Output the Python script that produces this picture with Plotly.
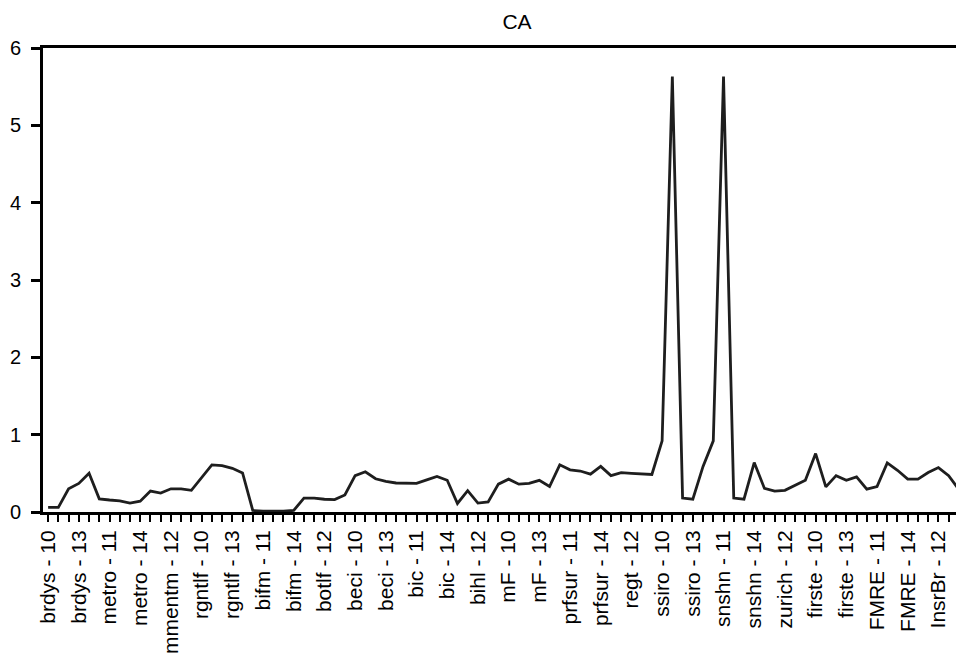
import plotly.graph_objects as go

groups = ["brdys", "metro", "mmentm", "rgntlf", "bifm", "botlf", "beci", "bic", "bihl",
          "mF", "prfsur", "regt", "ssiro", "snshn", "zurich", "firste", "FMRE", "InsrBr"]
years = ["10", "11", "12", "13", "14"]
categories = [f"{g} - {y}" for g in groups for y in years]

values = [
    0.06, 0.06, 0.30, 0.37, 0.50,      # brdys
    0.17, 0.155, 0.145, 0.115, 0.14,   # metro
    0.27, 0.245, 0.30, 0.30, 0.28,     # mmentm
    0.45, 0.61, 0.60, 0.565, 0.505,    # rgntlf
    0.02, 0.01, 0.01, 0.01, 0.02,      # bifm
    0.18, 0.18, 0.165, 0.16, 0.22,     # botlf
    0.47, 0.52, 0.43, 0.395, 0.375,    # beci
    0.37, 0.37, 0.415, 0.46, 0.41,     # bic
    0.11, 0.275, 0.115, 0.13, 0.36,    # bihl
    0.425, 0.36, 0.37, 0.41, 0.33,     # mF
    0.61, 0.545, 0.53, 0.49, 0.59,     # prfsur
    0.47, 0.51, 0.50, 0.49, 0.485,     # regt
    0.92, 5.63, 0.18, 0.165, 0.59,     # ssiro
    0.92, 5.63, 0.18, 0.165, 0.64,     # snshn
    0.305, 0.27, 0.28, 0.34, 0.41,     # zurich
    0.755, 0.325, 0.47, 0.41, 0.455,   # firste
    0.295, 0.33, 0.635, 0.54, 0.425,   # FMRE
    0.425, 0.51, 0.575, 0.47, 0.29,    # InsrBr
]

tick_text = [c if i % 3 == 0 else "" for i, c in enumerate(categories)]
y_ticks = [0, 1, 2, 3, 4, 5, 6]

fig = go.Figure()
fig.add_trace(go.Scatter(
    x=categories, y=values, mode="lines",
    line=dict(color="#1e1e1e", width=2.8),
    showlegend=False,
))

fig.update_layout(
    width=964, height=662,
    margin=dict(l=35, r=8, t=40, b=158, autoexpand=False),
    paper_bgcolor="white", plot_bgcolor="white",
    font=dict(family="Liberation Sans, Arial, sans-serif", color="black"),
    title=dict(text="CA", x=0.528, xanchor="center", y=0.979, yanchor="middle",
               font=dict(size=21, color="black")),
)
fig.update_xaxes(
    type="category", range=[-0.5, 89.5], automargin=False,
    tickmode="array", tickvals=categories, ticktext=tick_text,
    tickangle=-90, tickfont=dict(size=21, color="black"),
    ticks="outside", ticklen=7, tickwidth=2, tickcolor="black",
    showline=True, linecolor="black", linewidth=3, mirror=True,
    showgrid=False, zeroline=False,
)
fig.update_yaxes(
    range=[0, 6], tickvals=y_ticks, automargin=False,
    tickfont=dict(size=20, color="black"), ticklabelstandoff=6,
    ticks="outside", ticklen=9, tickwidth=2.5, tickcolor="black",
    showline=True, linecolor="black", linewidth=3,
    showgrid=False, zeroline=False,
)

fig.write_html("out.html")
